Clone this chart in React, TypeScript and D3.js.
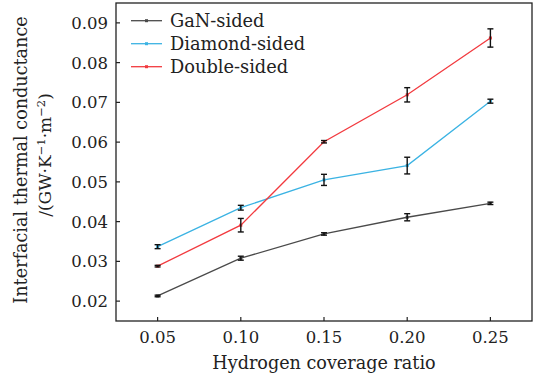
import React from "react";
import * as d3 from "d3";

const xValues = [0.05, 0.1, 0.15, 0.2, 0.25];
const xTickLabels = ["0.05", "0.10", "0.15", "0.20", "0.25"];
const yTicks = [0.02, 0.03, 0.04, 0.05, 0.06, 0.07, 0.08, 0.09];
const yTickLabels = ["0.02", "0.03", "0.04", "0.05", "0.06", "0.07", "0.08", "0.09"];

const seriesNames = ["GaN-sided", "Diamond-sided", "Double-sided"];
const ganValues = [0.0213, 0.0308, 0.0369, 0.0411, 0.0446];
const ganErrors = [0.0002, 0.0005, 0.0003, 0.0009, 0.0003];
const diamondValues = [0.0337, 0.0435, 0.0505, 0.0541, 0.0703];
const diamondErrors = [0.0005, 0.0006, 0.0014, 0.0021, 0.0005];
const doubleValues = [0.0288, 0.0391, 0.0601, 0.0719, 0.0862];
const doubleErrors = [0.0002, 0.0017, 0.0003, 0.0018, 0.0023];

const colors = ["#4a4a4a", "#3bb3e3", "#f23a3f"];

const W = 534;
const H = 381;
const M = { left: 116, right: 532, top: 3, bottom: 321 };
const FONT = "'DejaVu Serif', serif";

export default function App() {
  const x = d3.scaleLinear().domain([0.025, 0.275]).range([M.left, M.right]);
  const y = d3.scaleLinear().domain([0.015, 0.095]).range([M.bottom, M.top]);
  const line = d3
    .line<number>()
    .x((_, i) => x(xValues[i]))
    .y((d) => y(d));

  const series = [
    { name: seriesNames[0], vals: ganValues, errs: ganErrors, color: colors[0] },
    { name: seriesNames[1], vals: diamondValues, errs: diamondErrors, color: colors[1] },
    { name: seriesNames[2], vals: doubleValues, errs: doubleErrors, color: colors[2] },
  ];

  const legendY = [20.7, 43.7, 66.7];

  return (
    <div style={{ position: "fixed", left: 0, top: 0, width: W, height: H, background: "#fff" }}>
      <svg width={W} height={H} style={{ display: "block" }}>
        <rect x={0} y={0} width={W} height={H} fill="#fff" />
        {series.map((s) => (
          <path key={s.name} d={line(s.vals) || ""} fill="none" stroke={s.color} strokeWidth={1.3} />
        ))}
        {series.map((s) =>
          s.vals.map((v, i) => (
            <rect
              key={s.name + "m" + i}
              x={x(xValues[i]) - 1.5}
              y={y(v) - 1.5}
              width={3}
              height={3}
              fill={s.color}
            />
          ))
        )}
        {series.map((s) =>
          s.vals.map((v, i) => {
            const cx = x(xValues[i]);
            const y1 = y(v + s.errs[i]);
            const y2 = y(v - s.errs[i]);
            return (
              <g key={s.name + "e" + i} stroke="#111" strokeWidth={1.4}>
                <line x1={cx} x2={cx} y1={y1} y2={y2} />
                <line x1={cx - 3} x2={cx + 3} y1={y1} y2={y1} />
                <line x1={cx - 3} x2={cx + 3} y1={y2} y2={y2} />
              </g>
            );
          })
        )}
        <rect
          x={M.left}
          y={M.top}
          width={M.right - M.left}
          height={M.bottom - M.top}
          fill="none"
          stroke="#222"
          strokeWidth={1.3}
        />
        {yTicks.map((t, i) => (
          <g key={"yt" + i}>
            <line x1={M.left} x2={M.left + 4} y1={y(t)} y2={y(t)} stroke="#222" strokeWidth={1.2} />
            <text
              x={108}
              y={y(t)}
              dy="0.36em"
              textAnchor="end"
              fontFamily={FONT}
              fontSize={16.5}
              fill="#222"
            >
              {yTickLabels[i]}
            </text>
          </g>
        ))}
        {xValues.map((t, i) => (
          <g key={"xt" + i}>
            <line x1={x(t)} x2={x(t)} y1={M.bottom} y2={M.bottom - 4} stroke="#222" strokeWidth={1.2} />
            <text
              x={x(t)}
              y={343}
              textAnchor="middle"
              fontFamily={FONT}
              fontSize={16.5}
              fill="#222"
            >
              {xTickLabels[i]}
            </text>
          </g>
        ))}
        <text x={324} y={369} textAnchor="middle" fontFamily={FONT} fontSize={17.6} fill="#222">
          Hydrogen coverage ratio
        </text>
        <text
          transform="translate(27,160) rotate(-90)"
          textAnchor="middle"
          fontFamily={FONT}
          fontSize={17.6}
          fill="#222"
        >
          Interfacial thermal conductance
        </text>
        <text
          transform="translate(51,155) rotate(-90)"
          textAnchor="middle"
          fontFamily={FONT}
          fontSize={17}
          fill="#222"
        >
          /(GW·K
          <tspan dy="-6" fontSize={11.5}>−1</tspan>
          <tspan dy="6">·m</tspan>
          <tspan dy="-6" fontSize={11.5}>−2</tspan>
          <tspan dy="6">)</tspan>
        </text>
        {series.map((s, i) => (
          <g key={"lg" + i}>
            <line x1={131} x2={162} y1={legendY[i]} y2={legendY[i]} stroke={s.color} strokeWidth={1.3} />
            <rect x={145} y={legendY[i] - 1.5} width={3} height={3} fill={s.color} />
            <text
              x={170}
              y={legendY[i]}
              dy="0.36em"
              fontFamily={FONT}
              fontSize={17.8}
              fill="#222"
            >
              {s.name}
            </text>
          </g>
        ))}
      </svg>
    </div>
  );
}
